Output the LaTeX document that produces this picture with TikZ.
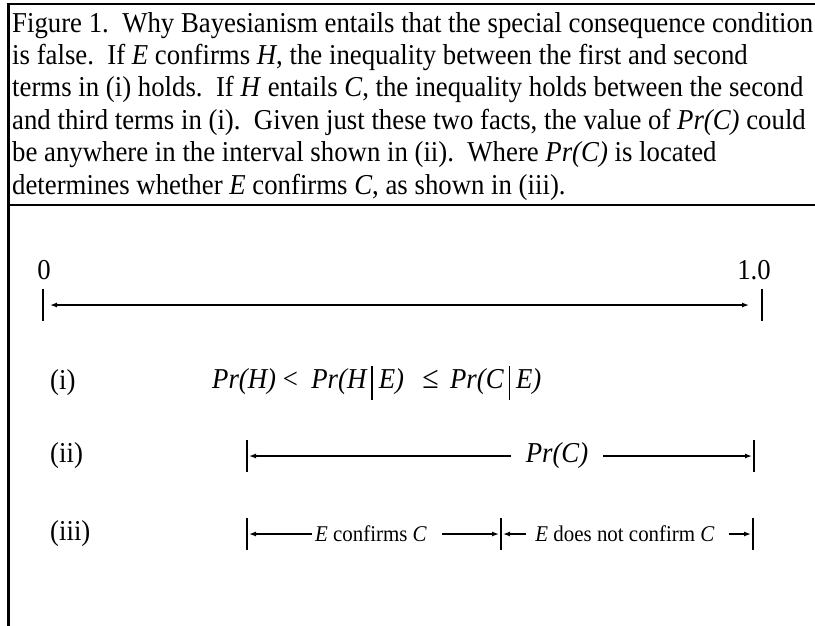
\documentclass[tikz,border=0pt]{standalone}
\usepackage{fontspec}
\setmainfont{Liberation Serif}[FakeStretch=0.93]
\usetikzlibrary{arrows.meta}
\newcommand{\tallbar}{\hspace{5pt}\rule[-12pt]{1.4pt}{34pt}\hspace{6pt}}
\begin{document}
\begin{tikzpicture}[x=1pt,y=-1pt,
  body/.style={inner sep=0pt, anchor=base west, font=\fontsize{28.8}{32.4}\selectfont},
  lbl/.style={inner sep=0pt, font=\fontsize{28.8}{32.4}\selectfont},
  small/.style={inner sep=0pt, font=\fontsize{22.5}{25}\selectfont},
  frame/.style={line width=2.4pt, line join=miter},
  divider/.style={line width=1.4pt},
  tick/.style={line width=1.8pt},
  arr/.style={line width=1.3pt, -{Latex[length=7pt,width=5pt]}},
  dblarr/.style={line width=1.3pt, {Latex[length=7pt,width=5pt]}-{Latex[length=7pt,width=5pt]}},
]
\useasboundingbox (0,0) rectangle (815,625);
\fill[white] (0,0) rectangle (815,625);

% frame
\draw[frame] (815,4) -- (8.5,4) -- (8.5,626);
\draw[divider] (8.5,205) -- (815,205);

% caption
\node[body] (t1) at (12,32) {Figure 1.\ \ Why Bayesianism entails that the special consequence condition};
\node[body] (t2) at (12,64.4) {is false.\ \ If \emph{E} confirms \emph{H}, the inequality between the first and second};
\node[body] (t3) at (12,96.8) {terms in (i) holds.\ \ If \emph{H} entails \emph{C}, the inequality holds between the second};
\node[body] (t4) at (12,129.2) {and third terms in (i).\ \ Given just these two facts, the value of \emph{Pr(C)} could};
\node[body] (t5) at (12,161.6) {be anywhere in the interval shown in (ii).\ \ Where \emph{Pr(C)} is located};
\node[body] (t6) at (12,194) {determines whether \emph{E} confirms \emph{C}, as shown in (iii).};

% axis
\node[lbl] (zero) at (44,270) {0};
\node[lbl] (one) at (754,270) {1.0};
\coordinate (a0) at (43,305);
\coordinate (a1) at (762,305);
\draw[tick] (43,289) -- (43,321);
\draw[tick] (762,289) -- (762,321);
\draw[dblarr, shorten <=7pt, shorten >=13pt] (a0) -- (a1);

% row (i)
\node[lbl, anchor=west] (li) at (50,383) {(i)};
\node[lbl, anchor=west] (f1) at (212,383) {\itshape Pr(H)~{\upshape <}\ \ Pr(H\tallbar E)\ \ \,{\upshape\fontsize{32}{32}\selectfont ≤}\,\ Pr(C\tallbar E)};

% row (ii)
\node[lbl, anchor=west] (lii) at (50,456) {(ii)};
\coordinate (b0) at (247,456);
\coordinate (b1) at (754,456);
\draw[tick] (247,440) -- (247,472);
\draw[tick] (754,440) -- (754,472);
\node[lbl] (prc) at (557,456) {\itshape Pr(C)};
\draw[arr] ([xshift=-15pt]prc.west) -- ([xshift=2pt]b0);
\draw[arr] ([xshift=15pt]prc.east) -- ([xshift=-2pt]b1);

% row (iii)
\node[lbl, anchor=west] (liii) at (50,534) {(iii)};
\coordinate (c0) at (247,534);
\coordinate (c1) at (501,534);
\coordinate (c2) at (753,534);
\draw[tick] (247,518) -- (247,550);
\draw[tick] (501,518) -- (501,550);
\draw[tick] (753,518) -- (753,550);
\node[small] (ec) at (371,534) {\emph{E} confirms \emph{C}};
\node[small] (en) at (625,534) {\emph{E} does not confirm \emph{C}};
\draw[arr] ([xshift=-3pt]ec.west) -- ([xshift=2pt]c0);
\draw[arr] ([xshift=15pt]ec.east) -- ([xshift=-2pt]c1);
\draw[arr] ([xshift=-9pt]en.west) -- ([xshift=2pt]c1);
\draw[arr] ([xshift=14pt]en.east) -- ([xshift=-2pt]c2);
\end{tikzpicture}
\end{document}
